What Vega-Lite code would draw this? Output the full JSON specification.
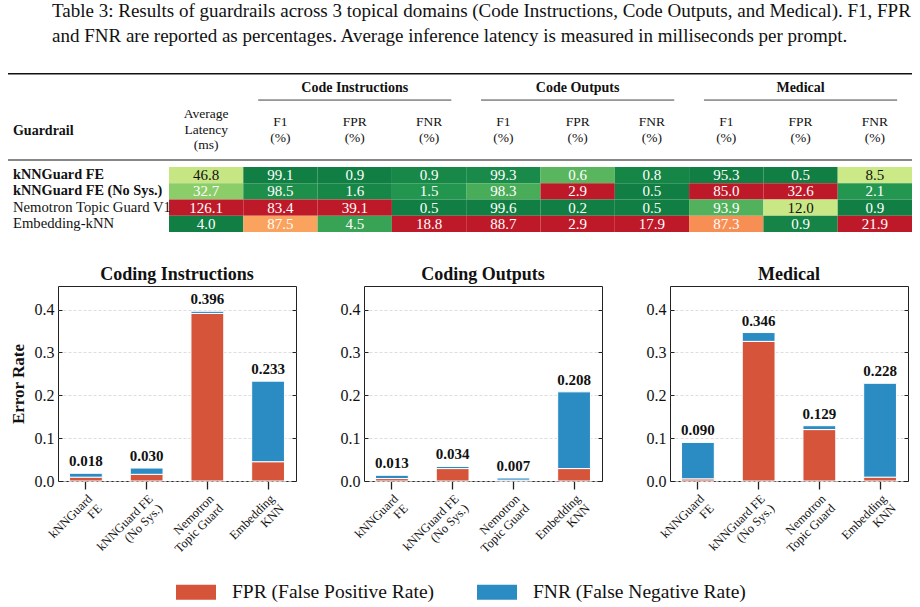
{
  "$schema": "https://vega.github.io/schema/vega-lite/v6.json",
  "padding": {"left": 7, "top": 2, "right": 0, "bottom": 0},
  "title": {
    "text": [
      "Table 3: Results of guardrails across 3 topical domains (Code Instructions, Code Outputs, and Medical). F1, FPR",
      "and FNR are reported as percentages. Average inference latency is measured in milliseconds per prompt."
    ],
    "anchor": "start",
    "frame": "group",
    "fontSize": 19,
    "fontWeight": "normal",
    "lineHeight": 25,
    "offset": 26.5,
    "dx": -6,
    "color": "#111"
  },
  "config": {
    "font": "Liberation Serif",
    "view": {"stroke": null},
    "title": {"color": "#111", "frame": "group", "font": "Liberation Serif"},
    "axis": {"labelColor": "#111", "titleColor": "#111", "labelFont": "Liberation Serif", "titleFont": "Liberation Serif"},
    "legend": {"labelFont": "Liberation Serif", "titleFont": "Liberation Serif"},
    "style": {"guide-label": {"font": "Liberation Serif"}, "guide-title": {"font": "Liberation Serif"}}
  },
  "datasets": {
    "table": [
      {"model": "kNNGuard FE", "latency": 46.8, "ci_f1": 99.1, "ci_fpr": 0.9, "ci_fnr": 0.9, "co_f1": 99.3, "co_fpr": 0.6, "co_fnr": 0.8, "med_f1": 95.3, "med_fpr": 0.5, "med_fnr": 8.5},
      {"model": "kNNGuard FE (No Sys.)", "latency": 32.7, "ci_f1": 98.5, "ci_fpr": 1.6, "ci_fnr": 1.5, "co_f1": 98.3, "co_fpr": 2.9, "co_fnr": 0.5, "med_f1": 85.0, "med_fpr": 32.6, "med_fnr": 2.1},
      {"model": "Nemotron Topic Guard V1", "latency": 126.1, "ci_f1": 83.4, "ci_fpr": 39.1, "ci_fnr": 0.5, "co_f1": 99.6, "co_fpr": 0.2, "co_fnr": 0.5, "med_f1": 93.9, "med_fpr": 12.0, "med_fnr": 0.9},
      {"model": "Embedding-kNN", "latency": 4.0, "ci_f1": 87.5, "ci_fpr": 4.5, "ci_fnr": 18.8, "co_f1": 88.7, "co_fpr": 2.9, "co_fnr": 17.9, "med_f1": 87.3, "med_fpr": 0.9, "med_fnr": 21.9}
    ],
    "rates": [
      {"domain": "Coding Instructions", "model": "kNNGuard FE", "fpr": 0.009, "fnr": 0.009},
      {"domain": "Coding Instructions", "model": "kNNGuard FE (No Sys.)", "fpr": 0.0156, "fnr": 0.0146},
      {"domain": "Coding Instructions", "model": "Nemotron Topic Guard", "fpr": 0.391, "fnr": 0.005},
      {"domain": "Coding Instructions", "model": "Embedding KNN", "fpr": 0.045, "fnr": 0.188},
      {"domain": "Coding Outputs", "model": "kNNGuard FE", "fpr": 0.0057, "fnr": 0.0076},
      {"domain": "Coding Outputs", "model": "kNNGuard FE (No Sys.)", "fpr": 0.029, "fnr": 0.005},
      {"domain": "Coding Outputs", "model": "Nemotron Topic Guard", "fpr": 0.002, "fnr": 0.005},
      {"domain": "Coding Outputs", "model": "Embedding KNN", "fpr": 0.029, "fnr": 0.179},
      {"domain": "Medical", "model": "kNNGuard FE", "fpr": 0.005, "fnr": 0.085},
      {"domain": "Medical", "model": "kNNGuard FE (No Sys.)", "fpr": 0.3258, "fnr": 0.0206},
      {"domain": "Medical", "model": "Nemotron Topic Guard", "fpr": 0.12, "fnr": 0.009},
      {"domain": "Medical", "model": "Embedding KNN", "fpr": 0.009, "fnr": 0.219}
    ]
  },
  "spacing": 33,
  "resolve": {"scale": {"color": "independent", "fill": "independent"}},
  "vconcat": [
    {
      "width": 854,
      "height": 159,
      "layer": [
        {
          "data": {"name": "table"},
          "transform": [
            {"window": [{"op": "row_number", "as": "row"}]},
            {"fold": ["latency", "ci_f1", "ci_fpr", "ci_fnr", "co_f1", "co_fpr", "co_fnr", "med_f1", "med_fpr", "med_fnr"], "as": ["key", "value"]},
            {"calculate": "indexof(['latency','ci_f1','ci_fpr','ci_fnr','co_f1','co_fpr','co_fnr','med_f1','med_fpr','med_fnr'], datum.key)", "as": "col"},
            {"calculate": "datum.col + 1", "as": "col_end"},
            {"calculate": "datum.col + 0.5", "as": "col_mid"},
            {"calculate": "datum.row - 1", "as": "row_top"},
            {"calculate": "datum.row - 0.5", "as": "row_mid"},
            {"joinaggregate": [{"op": "min", "field": "value", "as": "lo"}, {"op": "max", "field": "value", "as": "hi"}], "groupby": ["key"]},
            {"calculate": "(indexof(datum.key, 'f1') >= 0 ? datum.value - datum.lo : datum.hi - datum.value) / (datum.hi - datum.lo)", "as": "score"}
          ],
          "layer": [
            {
              "mark": {"type": "rect"},
              "encoding": {
                "x": {"field": "col", "type": "quantitative", "scale": {"domain": [-1.494, 10], "nice": false, "zero": false}, "axis": null},
                "x2": {"field": "col_end"},
                "y": {"field": "row_top", "type": "quantitative", "scale": {"domain": [-5.785, 4], "nice": false, "zero": false, "reverse": true}, "axis": null},
                "y2": {"field": "row"},
                "fill": {"field": "score", "type": "quantitative", "scale": {"scheme": {"name": "redyellowgreen", "extent": [0.05, 0.95]}, "domain": [0, 1]}, "legend": null}
              }
            },
            {
              "mark": {"type": "text", "fontSize": 15, "baseline": "middle"},
              "encoding": {
                "x": {"field": "col_mid", "type": "quantitative"},
                "y": {"field": "row_mid", "type": "quantitative"},
                "text": {"field": "value", "type": "quantitative", "format": ".1f"},
                "color": {"condition": {"test": "datum.score > 0.3 && datum.score < 0.75", "value": "#111"}, "value": "white"}
              }
            }
          ]
        },
        {
          "data": {"name": "table"},
          "transform": [
            {"window": [{"op": "row_number", "as": "row"}]},
            {"calculate": "datum.row - 0.5", "as": "row_mid"},
            {"calculate": "indexof(datum.model, 'kNNGuard') === 0", "as": "ours"}
          ],
          "layer": [
            {
              "transform": [{"filter": "datum.ours"}],
              "mark": {"type": "text", "align": "left", "baseline": "middle", "fontSize": 14.3, "fontWeight": "bold", "color": "#111"},
              "encoding": {"x": {"datum": -2.1}, "y": {"field": "row_mid", "type": "quantitative"}, "text": {"field": "model"}}
            },
            {
              "transform": [{"filter": "!datum.ours"}],
              "mark": {"type": "text", "align": "left", "baseline": "middle", "fontSize": 14.7, "color": "#111"},
              "encoding": {"x": {"datum": -2.1}, "y": {"field": "row_mid", "type": "quantitative"}, "text": {"field": "model"}}
            }
          ]
        },
        {
          "data": {"values": [
            {"key": "latency", "label": "Average\nLatency\n(ms)"},
            {"key": "ci_f1", "label": "F1\n(%)"},
            {"key": "ci_fpr", "label": "FPR\n(%)"},
            {"key": "ci_fnr", "label": "FNR\n(%)"},
            {"key": "co_f1", "label": "F1\n(%)"},
            {"key": "co_fpr", "label": "FPR\n(%)"},
            {"key": "co_fnr", "label": "FNR\n(%)"},
            {"key": "med_f1", "label": "F1\n(%)"},
            {"key": "med_fpr", "label": "FPR\n(%)"},
            {"key": "med_fnr", "label": "FNR\n(%)"}
          ]},
          "transform": [
            {"calculate": "indexof(['latency','ci_f1','ci_fpr','ci_fnr','co_f1','co_fpr','co_fnr','med_f1','med_fpr','med_fnr'], datum.key) + 0.5", "as": "col_mid"},
            {"calculate": "-2.28 - (length(split(datum.label, '\\n')) - 1) * 0.477", "as": "first_line"}
          ],
          "mark": {"type": "text", "lineBreak": "\n", "fontSize": 13.5, "lineHeight": 15.5, "baseline": "middle", "color": "#111"},
          "encoding": {"x": {"field": "col_mid", "type": "quantitative"}, "y": {"field": "first_line", "type": "quantitative"}, "text": {"field": "label"}}
        },
        {
          "data": {"values": [{"label": "Guardrail"}]},
          "mark": {"type": "text", "align": "left", "baseline": "middle", "fontSize": 14, "fontWeight": "bold", "color": "#111"},
          "encoding": {"x": {"datum": -2.1}, "y": {"datum": -2.22}, "text": {"field": "label"}}
        },
        {
          "data": {"values": [
            {"group": "Code Instructions", "first": "ci_f1"},
            {"group": "Code Outputs", "first": "co_f1"},
            {"group": "Medical", "first": "med_f1"}
          ]},
          "transform": [
            {"calculate": "indexof(['latency','ci_f1','ci_fpr','ci_fnr','co_f1','co_fpr','co_fnr','med_f1','med_fpr','med_fnr'], datum.first)", "as": "start"},
            {"calculate": "datum.start + 1.5", "as": "centre"},
            {"calculate": "datum.start + 0.2", "as": "rule_from"},
            {"calculate": "datum.start + 2.8", "as": "rule_to"}
          ],
          "layer": [
            {
              "mark": {"type": "text", "fontWeight": "bold", "fontSize": 14, "baseline": "middle", "color": "#111"},
              "encoding": {"x": {"field": "centre", "type": "quantitative"}, "y": {"datum": -4.86}, "text": {"field": "group"}}
            },
            {
              "mark": {"type": "rule", "strokeWidth": 0.8, "color": "#111"},
              "encoding": {"x": {"field": "rule_from", "type": "quantitative"}, "x2": {"field": "rule_to"}, "y": {"datum": -4.12}}
            }
          ]
        },
        {
          "data": {"values": [{}]},
          "mark": {"type": "rule", "strokeWidth": 1.6, "color": "#111"},
          "encoding": {"x": {"datum": -2.167}, "x2": {"datum": 10}, "y": {"datum": -5.74}}
        },
        {
          "data": {"values": [{}]},
          "mark": {"type": "rule", "strokeWidth": 1.2, "color": "#111"},
          "encoding": {"x": {"datum": -2.167}, "x2": {"datum": 10}, "y": {"datum": -0.43}}
        }
      ]
    },
    {
      "spacing": 42,
      "resolve": {"scale": {"color": "shared"}},
      "hconcat": [
        {
          "title": {"text": "Coding Instructions", "fontSize": 18, "fontWeight": "bold", "offset": 2},
          "width": 238,
          "height": 195,
          "view": {"stroke": "#222", "strokeWidth": 1},
          "data": {"name": "rates"},
          "transform": [
            {"filter": "datum.domain === 'Coding Instructions'"},
            {"fold": ["fpr", "fnr"], "as": ["kind", "rate"]}
          ],
          "encoding": {
            "x": {
              "field": "model", "type": "nominal",
              "sort": ["kNNGuard FE", "kNNGuard FE (No Sys.)", "Nemotron Topic Guard", "Embedding KNN"],
              "scale": {"paddingInner": 0.46, "paddingOuter": 0.19},
              "axis": {
                "title": null, "domain": false, "labelAngle": -45, "labelAlign": "right", "labelBaseline": "top",
                "labelFontSize": 12.5, "labelLineHeight": 13.5, "labelPadding": 3, "tickSize": 8, "tickWidth": 1.3, "tickColor": "#222",
                "labelExpr": "datum.label == 'kNNGuard FE' ? ['kNNGuard', 'FE'] : datum.label == 'kNNGuard FE (No Sys.)' ? ['kNNGuard FE', '(No Sys.)'] : datum.label == 'Nemotron Topic Guard' ? ['Nemotron', 'Topic Guard'] : ['Embedding', 'KNN']"
              }
            }
          },
          "layer": [
            {
              "mark": {"type": "bar", "stroke": "white", "strokeWidth": 1},
              "encoding": {
                "y": {
                  "field": "rate", "type": "quantitative", "stack": "zero",
                  "scale": {"domain": [0, 0.455], "nice": false},
                  "axis": {"values": [0, 0.1, 0.2, 0.3, 0.4], "format": ".1f", "title": "Error Rate", "titleFontSize": 17, "titleFontWeight": "bold", "titlePadding": 7, "labelFontSize": 16, "tickSize": -4, "labelPadding": 8, "tickColor": "#222", "domain": false, "grid": true, "gridDash": [3, 2], "gridColor": "#d6d6d6", "gridWidth": 0.8}
                },
                "color": {
                  "field": "kind", "type": "nominal",
                  "scale": {"domain": ["fpr", "fnr"], "range": ["#d65439", "#2b8cc4"]},
                  "legend": {"title": null, "orient": "none", "legendX": 118, "legendY": 286, "direction": "horizontal", "padding": 0, "symbolType": "M-1,-0.375H1V0.375H-1Z", "symbolSize": 1600, "symbolStrokeWidth": 0, "labelFont": "Liberation Serif", "labelFontSize": 19.5, "labelOffset": 16, "columnPadding": 42, "labelColor": "#111", "labelLimit": 400,
                    "labelExpr": "datum.label == 'fpr' ? 'FPR (False Positive Rate)' : 'FNR (False Negative Rate)'"}
                },
                "order": {"field": "kind", "sort": "descending"}
              }
            },
            {
              "transform": [{"aggregate": [{"op": "sum", "field": "rate", "as": "total"}], "groupby": ["model"]}],
              "mark": {"type": "text", "baseline": "bottom", "dy": -4, "fontSize": 15, "fontWeight": "bold", "color": "#111"},
              "encoding": {
                "y": {"field": "total", "type": "quantitative", "axis": {"orient": "right", "values": [0, 0.1, 0.2, 0.3, 0.4], "labels": false, "title": null, "tickSize": -4, "tickColor": "#222", "domain": false, "grid": false}},
                "text": {"field": "total", "type": "quantitative", "format": ".3f"}
              }
            }
          ],
          "resolve": {"axis": {"y": "independent"}}
        },
        {
          "title": {"text": "Coding Outputs", "fontSize": 18, "fontWeight": "bold", "offset": 2},
          "width": 238,
          "height": 195,
          "view": {"stroke": "#222", "strokeWidth": 1},
          "data": {"name": "rates"},
          "transform": [
            {"filter": "datum.domain === 'Coding Outputs'"},
            {"fold": ["fpr", "fnr"], "as": ["kind", "rate"]}
          ],
          "encoding": {
            "x": {
              "field": "model", "type": "nominal",
              "sort": ["kNNGuard FE", "kNNGuard FE (No Sys.)", "Nemotron Topic Guard", "Embedding KNN"],
              "scale": {"paddingInner": 0.46, "paddingOuter": 0.19},
              "axis": {
                "title": null, "domain": false, "labelAngle": -45, "labelAlign": "right", "labelBaseline": "top",
                "labelFontSize": 12.5, "labelLineHeight": 13.5, "labelPadding": 3, "tickSize": 8, "tickWidth": 1.3, "tickColor": "#222",
                "labelExpr": "datum.label == 'kNNGuard FE' ? ['kNNGuard', 'FE'] : datum.label == 'kNNGuard FE (No Sys.)' ? ['kNNGuard FE', '(No Sys.)'] : datum.label == 'Nemotron Topic Guard' ? ['Nemotron', 'Topic Guard'] : ['Embedding', 'KNN']"
              }
            }
          },
          "layer": [
            {
              "mark": {"type": "bar", "stroke": "white", "strokeWidth": 1},
              "encoding": {
                "y": {
                  "field": "rate", "type": "quantitative", "stack": "zero",
                  "scale": {"domain": [0, 0.455], "nice": false},
                  "axis": {"values": [0, 0.1, 0.2, 0.3, 0.4], "format": ".1f", "title": null, "labelFontSize": 16, "tickSize": -4, "labelPadding": 8, "tickColor": "#222", "domain": false, "grid": true, "gridDash": [3, 2], "gridColor": "#d6d6d6", "gridWidth": 0.8}
                },
                "color": {"field": "kind", "type": "nominal", "scale": {"domain": ["fpr", "fnr"], "range": ["#d65439", "#2b8cc4"]}},
                "order": {"field": "kind", "sort": "descending"}
              }
            },
            {
              "transform": [{"aggregate": [{"op": "sum", "field": "rate", "as": "total"}], "groupby": ["model"]}],
              "mark": {"type": "text", "baseline": "bottom", "dy": -4, "fontSize": 15, "fontWeight": "bold", "color": "#111"},
              "encoding": {
                "y": {"field": "total", "type": "quantitative", "axis": {"orient": "right", "values": [0, 0.1, 0.2, 0.3, 0.4], "labels": false, "title": null, "tickSize": -4, "tickColor": "#222", "domain": false, "grid": false}},
                "text": {"field": "total", "type": "quantitative", "format": ".3f"}
              }
            }
          ],
          "resolve": {"axis": {"y": "independent"}}
        },
        {
          "title": {"text": "Medical", "fontSize": 18, "fontWeight": "bold", "offset": 2},
          "width": 238,
          "height": 195,
          "view": {"stroke": "#222", "strokeWidth": 1},
          "data": {"name": "rates"},
          "transform": [
            {"filter": "datum.domain === 'Medical'"},
            {"fold": ["fpr", "fnr"], "as": ["kind", "rate"]}
          ],
          "encoding": {
            "x": {
              "field": "model", "type": "nominal",
              "sort": ["kNNGuard FE", "kNNGuard FE (No Sys.)", "Nemotron Topic Guard", "Embedding KNN"],
              "scale": {"paddingInner": 0.46, "paddingOuter": 0.19},
              "axis": {
                "title": null, "domain": false, "labelAngle": -45, "labelAlign": "right", "labelBaseline": "top",
                "labelFontSize": 12.5, "labelLineHeight": 13.5, "labelPadding": 3, "tickSize": 8, "tickWidth": 1.3, "tickColor": "#222",
                "labelExpr": "datum.label == 'kNNGuard FE' ? ['kNNGuard', 'FE'] : datum.label == 'kNNGuard FE (No Sys.)' ? ['kNNGuard FE', '(No Sys.)'] : datum.label == 'Nemotron Topic Guard' ? ['Nemotron', 'Topic Guard'] : ['Embedding', 'KNN']"
              }
            }
          },
          "layer": [
            {
              "mark": {"type": "bar", "stroke": "white", "strokeWidth": 1},
              "encoding": {
                "y": {
                  "field": "rate", "type": "quantitative", "stack": "zero",
                  "scale": {"domain": [0, 0.455], "nice": false},
                  "axis": {"values": [0, 0.1, 0.2, 0.3, 0.4], "format": ".1f", "title": null, "labelFontSize": 16, "tickSize": -4, "labelPadding": 8, "tickColor": "#222", "domain": false, "grid": true, "gridDash": [3, 2], "gridColor": "#d6d6d6", "gridWidth": 0.8}
                },
                "color": {"field": "kind", "type": "nominal", "scale": {"domain": ["fpr", "fnr"], "range": ["#d65439", "#2b8cc4"]}},
                "order": {"field": "kind", "sort": "descending"}
              }
            },
            {
              "transform": [{"aggregate": [{"op": "sum", "field": "rate", "as": "total"}], "groupby": ["model"]}],
              "mark": {"type": "text", "baseline": "bottom", "dy": -4, "fontSize": 15, "fontWeight": "bold", "color": "#111"},
              "encoding": {
                "y": {"field": "total", "type": "quantitative", "axis": {"orient": "right", "values": [0, 0.1, 0.2, 0.3, 0.4], "labels": false, "title": null, "tickSize": -4, "tickColor": "#222", "domain": false, "grid": false}},
                "text": {"field": "total", "type": "quantitative", "format": ".3f"}
              }
            }
          ],
          "resolve": {"axis": {"y": "independent"}}
        }
      ]
    }
  ]
}
